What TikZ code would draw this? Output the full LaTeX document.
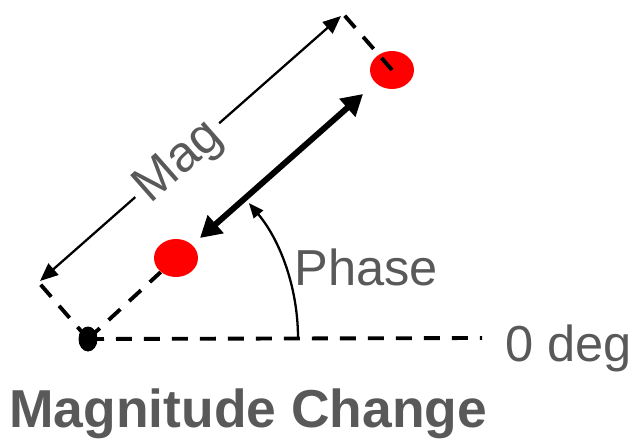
\documentclass[tikz,border=0pt]{standalone}
\usepackage{fontspec}
\setmainfont{Liberation Sans}
\usepackage{tikz}
\usetikzlibrary{arrows.meta,calc,shapes.geometric}
\definecolor{txtgray}{HTML}{595959}

\begin{document}
\begin{tikzpicture}[
  x=0.02cm,y=-0.02cm,
  dashline/.style={draw=black,line width=2.2pt,dash pattern=on 0.32cm off 0.24cm},
  reddot/.style={ellipse,fill=red,minimum width=0.88cm,minimum height=0.76cm,inner sep=0pt},
  blackdot/.style={ellipse,fill=black,minimum width=0.38cm,minimum height=0.5cm,inner sep=0pt},
  dimarrow/.style={{Triangle[length=0.36cm,width=0.3cm]}-{Triangle[length=0.36cm,width=0.3cm]},line width=1.3pt},
  bigarrow/.style={{Triangle[length=0.42cm,width=0.46cm]}-{Triangle[length=0.42cm,width=0.46cm]},line width=3.4pt},
  phasearrow/.style={-{Triangle[length=0.3cm,width=0.24cm]},line width=1.3pt},
  lbl/.style={text=txtgray,font=\fontsize{28.8}{34}\selectfont,inner sep=0pt}
]
\useasboundingbox (0,0) rectangle (634,442);

% points and dots
\node[blackdot] (O) at (88,339) {};
\node[reddot] (A) at (176,258) {};
\node[reddot] (B) at (392,70) {};
\coordinate (Ox) at (34,277);
\coordinate (Bx) at (338,8);
\coordinate (D1) at (40,281);
\coordinate (D2) at (341,16);
\coordinate (T1) at (200,238);
\coordinate (T2) at (363,94);
\coordinate (Z) at (482,338);
\coordinate (P0) at (298,338);

% dashed reference lines
\draw[dashline] (O.center) -- (Z);
\draw[dashline] (O.center) -- (A);
\draw[dashline] (O.center) -- (Ox);
\draw[dashline] (B.center) -- (Bx);

% magnitude dimension
\draw[dimarrow] (D1) -- node[pos=0.456,sloped,fill=white,lbl,inner xsep=0.13cm,yshift=-2pt] (mag) {Mag} (D2);

% magnitude change
\draw[bigarrow] (T1) -- (T2);

% phase angle
\draw[phasearrow] (P0) arc[start angle=0,end angle=-40,radius=210];

\node[lbl,anchor=base west] (phase) at (294,285) {Phase};
\node[lbl,anchor=base west] (zero) at (505,361) {0 deg};
\node[lbl,anchor=base west,font=\fontsize{30.4}{36}\selectfont\bfseries] (title) at (9,427) {Magnitude Change};
\end{tikzpicture}
\end{document}
